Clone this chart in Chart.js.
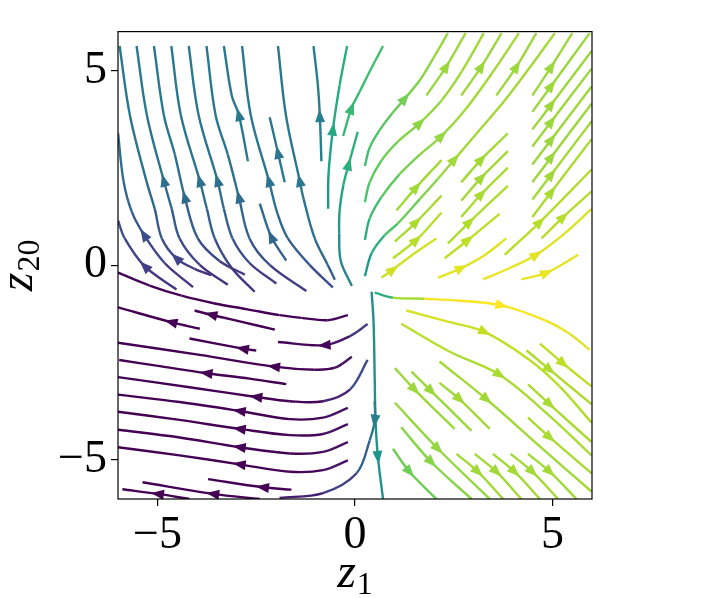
<!DOCTYPE html>
<html>
<head>
<meta charset="utf-8">
<script src="https://cdn.jsdelivr.net/npm/chart.js@4/dist/chart.umd.min.js"></script>
<style>
  body { margin: 0; background: #fff; }
  canvas { display: block; }
</style>
</head>
<body>
<canvas id="flow" width="711" height="598"></canvas>
<script>
// tick values on both axes
const xTicks = [-5, 0, 5];
const yTicks = [-5, 0, 5];

// streamlines, in flow order: [z1, z20, speed 0..1]
// a 4th value of 1 marks the point that carries the arrow head
const upperLeftLines = [
  [[-4.52,-0.62,0.12],[-5.32,-0.03,0.18,1],[-5.83,0.69,0.22],[-6.0,1.15,0.26]],
  [[-4.10,-0.56,0.12],[-4.82,0.06,0.18],[-5.34,0.78,0.24,1],[-5.65,1.37,0.3],[-5.86,2.16,0.35],[-6.0,3.40,0.38]],
  [[-3.64,-0.25,0.12],[-4.06,-0.09,0.16],[-4.52,0.18,0.2,1],[-4.89,0.69,0.25],[-5.07,1.45,0.32],[-5.28,2.16,0.36],[-5.70,3.86,0.4],[-5.96,5.63,0.4]],
  [[-3.22,-0.50,0.12],[-3.93,0.01,0.18],[-4.44,0.69,0.25],[-4.64,1.45,0.32],[-4.84,2.17,0.36,1],[-5.27,3.86,0.4],[-5.53,5.63,0.4]],
  [[-2.79,-0.24,0.14],[-3.43,0.11,0.2],[-3.98,0.69,0.26],[-4.31,1.75,0.34,1],[-4.56,2.84,0.38],[-4.84,3.86,0.4],[-5.09,5.63,0.4]],
  [[-2.54,-0.68,0.12],[-3.12,-0.07,0.2],[-3.55,0.69,0.27],[-3.75,1.45,0.33],[-3.93,2.17,0.37,1],[-4.41,3.86,0.4],[-4.65,5.63,0.4]],
  [[-1.99,-0.47,0.14],[-2.67,0.06,0.21],[-3.10,0.69,0.28],[-3.32,1.45,0.34],[-3.48,2.17,0.37,1],[-3.96,3.86,0.4],[-4.21,5.63,0.4]],
  [[-1.23,-0.66,0.14],[-2.16,0.01,0.22],[-2.67,0.69,0.29],[-2.94,1.75,0.35,1],[-3.22,2.84,0.38],[-3.53,3.86,0.4],[-3.76,5.63,0.4]],
  [[-2.71,2.67,0.4],[-2.94,3.86,0.4,1],[-3.12,4.36,0.4],[-3.32,5.63,0.4]],
  [[-1.74,0.12,0.3],[-2.12,0.73,0.33,1],[-2.41,1.58,0.36]],
  [[-0.56,-0.57,0.2],[-1.15,0.01,0.27],[-1.70,0.69,0.32],[-1.96,1.32,0.36],[-2.18,2.17,0.38,1],[-2.64,3.86,0.4],[-2.86,5.63,0.4]],
  [[-1.78,2.13,0.4],[-1.95,2.89,0.4,1],[-2.16,3.80,0.4]],
  [[-0.51,-0.37,0.28],[-0.69,0.01,0.32],[-1.02,0.69,0.36],[-1.30,1.70,0.39],[-1.40,2.17,0.4,1],[-1.75,3.86,0.4],[-1.95,5.63,0.4]],
  [[-0.85,2.67,0.42],[-0.89,3.83,0.42,1],[-0.94,4.62,0.42],[-1.05,5.63,0.42]]
];

const centerLines = [
  [[-0.68,1.45,0.5],[-0.67,2.34,0.55],[-0.56,3.48,0.6,1],[-0.39,4.62,0.62],[-0.20,5.63,0.63]],
  [[-0.08,-0.53,0.42],[-0.36,0.11,0.47],[-0.40,0.82,0.52],[-0.39,1.40,0.56],[-0.29,2.08,0.6],[-0.16,2.59,0.63,1],[0.07,3.43,0.65]],
  [[-0.30,3.32,0.66],[-0.09,4.03,0.67,1],[0.12,4.46,0.68],[0.42,5.07,0.69],[0.71,5.63,0.7]],
  [[0.42,-0.68,0.48],[0.47,-1.46,0.5],[0.50,-2.98,0.5],[0.52,-3.99,0.5],[0.58,-4.92,0.5,1],[0.71,-6.0,0.5]],
  [[0.50,-0.70,0.5],[0.96,-0.83,0.75],[1.76,-0.86,0.98],[2.65,-0.91,1.0],[3.71,-1.03,1.0,1],[4.80,-1.41,0.98],[5.43,-1.76,0.96],[5.94,-2.17,0.94]]
];

const lowerLeftLines = [
  [[-0.18,-1.28,0.04],[-0.69,-1.41,0.02],[-1.35,-1.35,0.01],[-1.91,-1.28,0.0],[-2.72,-1.13,0.0],[-3.55,-0.98,0.0],[-4.39,-0.78,0.0],[-5.20,-0.52,0.01],[-6.0,-0.19,0.02]],
  [[-3.93,-1.63,0],[-4.65,-1.46,0,1],[-6.0,-1.08,0]],
  [[-2.03,-1.65,0],[-2.92,-1.44,0],[-3.64,-1.27,0,1],[-4.06,-1.16,0]],
  [[-2.50,-2.19,0],[-2.84,-2.14,0,1],[-4.19,-1.88,0]],
  [[0.32,-1.51,0.25],[-0.13,-1.82,0.1],[-0.77,-2.05,0.02,1],[-1.95,-1.97,0]],
  [[-0.08,-2.35,0.08],[-0.51,-2.63,0.03],[-1.02,-2.68,0],[-2.05,-2.60,0,1],[-3.93,-2.30,0],[-6.0,-1.99,0]],
  [[-1.74,-3.05,0],[-2.67,-2.91,0],[-3.76,-2.77,0,1],[-4.94,-2.59,0],[-5.97,-2.43,0]],
  [[0.32,-2.43,0.3],[-0.13,-3.19,0.15],[-0.81,-3.49,0.03],[-1.65,-3.49,0],[-2.50,-3.38,0,1],[-4.19,-3.13,0],[-6.0,-2.87,0]],
  [[-0.18,-3.66,0.08],[-0.81,-3.91,0.02],[-1.65,-3.95,0],[-2.92,-3.74,0,1],[-4.44,-3.51,0],[-6.0,-3.32,0]],
  [[-0.18,-4.08,0.08],[-0.81,-4.33,0.02],[-1.65,-4.36,0],[-2.92,-4.20,0,1],[-4.44,-3.97,0],[-6.0,-3.76,0]],
  [[-0.18,-4.54,0.08],[-0.81,-4.79,0.02],[-1.65,-4.83,0],[-2.92,-4.67,0,1],[-4.44,-4.42,0],[-6.0,-4.22,0]],
  [[-0.18,-5.01,0.08],[-0.81,-5.26,0.02],[-1.65,-5.30,0],[-2.92,-5.11,0,1],[-4.44,-4.88,0],[-6.0,-4.67,0]],
  [[-1.61,-5.76,0],[-2.33,-5.70,0,1],[-3.72,-5.49,0]],
  [[-2.41,-6.0,0],[-3.59,-5.87,0,1],[-5.38,-5.57,0]],
  [[-4.19,-6.0,0],[-4.99,-5.87,0,1],[-5.89,-5.75,0]],
  [[0.50,-3.49,0.45],[0.50,-3.99,0.42,1],[0.37,-4.50,0.35],[0.04,-5.34,0.25],[-0.81,-5.85,0.12],[-1.91,-5.97,0.05]]
];

const upperRightLines = [
  [[0.25,2.55,0.68],[0.37,3.02,0.7],[0.63,3.48,0.73],[0.95,3.91,0.76],[1.26,4.28,0.79,1],[1.64,4.75,0.82],[1.99,5.33,0.84],[2.35,5.96,0.85]],
  [[0.25,1.62,0.7],[0.37,2.13,0.73],[0.67,2.69,0.77],[1.08,3.17,0.8],[1.64,3.65,0.83,1],[2.19,4.23,0.85],[2.70,4.97,0.86],[3.26,5.96,0.86]],
  [[0.25,0.65,0.6],[0.37,1.20,0.66],[0.67,1.75,0.72],[1.13,2.34,0.78],[1.64,2.84,0.82],[2.19,3.32,0.84,1],[2.78,3.98,0.86],[3.46,4.92,0.86],[4.15,5.96,0.86]],
  [[0.25,-0.28,0.5],[0.42,0.31,0.58],[0.75,0.77,0.68],[1.08,1.07,0.75],[1.64,1.70,0.8],[2.09,2.21,0.84],[2.52,2.72,0.86,1],[3.16,3.48,0.86],[3.79,4.23,0.86],[4.42,5.07,0.86],[5.06,5.96,0.86]],
  [[1.81,4.36,0.84],[2.31,5.10,0.85,1],[2.80,5.96,0.85]],
  [[2.69,4.36,0.85],[3.20,5.10,0.85,1],[3.71,5.96,0.85]],
  [[3.58,4.36,0.85],[4.09,5.10,0.85,1],[4.59,5.96,0.85]],
  [[4.49,4.36,0.85],[4.97,5.10,0.85,1],[5.50,5.96,0.85]],
  [[4.49,3.94,0.85],[4.97,4.61,0.85,1],[5.94,5.96,0.85]],
  [[4.49,3.49,0.85],[4.97,4.13,0.85,1],[5.99,5.50,0.85]],
  [[4.49,3.05,0.85],[4.97,3.69,0.85,1],[5.99,5.05,0.85]],
  [[4.49,2.59,0.85],[4.97,3.23,0.85,1],[5.99,4.59,0.85]],
  [[4.49,2.13,0.85],[4.97,2.78,0.85,1],[5.99,4.15,0.85]],
  [[4.49,1.69,0.86],[4.97,2.33,0.86,1],[5.99,3.70,0.86]],
  [[4.49,1.24,0.87],[4.97,1.88,0.87,1],[5.99,3.24,0.87]],
  [[2.69,2.13,0.86],[3.20,2.72,0.86,1],[3.87,3.39,0.86]],
  [[2.69,1.66,0.86],[3.20,2.25,0.86,1],[3.87,2.93,0.86]],
  [[2.69,1.24,0.87],[3.20,1.83,0.87,1],[3.87,2.51,0.87]],
  [[2.35,0.56,0.88],[2.90,1.11,0.88,1],[3.87,2.04,0.88]],
  [[2.27,0.18,0.9],[2.86,0.65,0.9,1],[3.66,1.32,0.9]],
  [[1.05,1.41,0.86],[1.55,2.00,0.86,1],[2.19,2.70,0.86]],
  [[1.01,0.61,0.87],[1.55,1.11,0.87,1],[2.19,1.79,0.87]],
  [[0.96,0.18,0.89],[1.55,0.65,0.89,1],[2.19,1.35,0.89]],
  [[0.67,-0.32,0.92],[0.96,-0.11,0.93,1],[1.51,0.31,0.93],[2.06,0.69,0.93]],
  [[2.10,-0.32,0.96],[2.69,-0.07,0.96,1],[3.28,0.26,0.95],[3.83,0.69,0.95]],
  [[3.24,-0.36,0.97],[3.92,-0.07,0.97],[4.59,0.27,0.96,1],[5.31,0.82,0.95],[5.99,1.45,0.94]],
  [[4.21,-0.36,0.97],[4.85,-0.19,0.97,1],[5.65,0.27,0.96]],
  [[3.79,0.27,0.9],[4.68,1.11,0.89,1],[5.99,2.46,0.88]],
  [[4.72,0.69,0.9],[5.27,1.24,0.89,1],[5.99,1.90,0.88]]
];

const lowerRightLines = [
  [[1.30,-1.16,0.95],[2.40,-1.46,0.93],[3.28,-1.71,0.91,1],[4.42,-2.43,0.9],[5.18,-3.11,0.89],[5.99,-4.04,0.88]],
  [[1.17,-1.50,0.9],[2.40,-2.22,0.88],[3.66,-2.81,0.87,1],[4.93,-3.87,0.87],[5.99,-4.88,0.87]],
  [[2.14,-2.47,0.86],[3.33,-3.44,0.86,1],[4.68,-4.65,0.86],[5.99,-5.81,0.86]],
  [[1.01,-2.64,0.85],[1.51,-3.19,0.85,1],[2.52,-4.20,0.85]],
  [[1.43,-2.73,0.85],[1.93,-3.23,0.85,1],[2.95,-4.25,0.85]],
  [[2.14,-3.02,0.86],[2.65,-3.44,0.86,1],[3.41,-4.20,0.86]],
  [[1.01,-3.53,0.84],[2.10,-4.71,0.84,1],[3.41,-6.0,0.84]],
  [[1.17,-4.16,0.82],[1.93,-5.05,0.82,1],[2.95,-6.0,0.82]],
  [[0.96,-4.71,0.78],[1.38,-5.30,0.78,1],[2.06,-6.0,0.78]],
  [[2.57,-4.84,0.86],[3.11,-5.30,0.86,1],[3.75,-6.0,0.86]],
  [[3.03,-4.84,0.86],[3.58,-5.30,0.86,1],[4.21,-6.0,0.86]],
  [[3.49,-4.84,0.86],[4.04,-5.30,0.86,1],[4.68,-6.0,0.86]],
  [[3.94,-4.84,0.86],[4.49,-5.30,0.86,1],[5.14,-6.0,0.86]],
  [[4.38,-4.84,0.86],[4.93,-5.30,0.86,1],[5.61,-6.0,0.86]],
  [[4.38,-3.91,0.87],[4.93,-4.42,0.87,1],[5.99,-5.34,0.87]],
  [[4.38,-3.06,0.87],[4.93,-3.57,0.87,1],[5.99,-4.54,0.87]],
  [[4.34,-2.18,0.88],[4.93,-2.68,0.88,1],[5.99,-3.57,0.88]],
  [[4.68,-2.01,0.9],[5.27,-2.52,0.9,1],[5.99,-3.11,0.9]]
];

const allLines = [...lowerLeftLines, ...upperLeftLines, ...centerLines, ...upperRightLines, ...lowerRightLines];

// viridis colour map
const viridisStops = ['#440154','#482475','#414487','#355f8d','#2a788e','#21918c','#22a884','#44bf70','#7ad151','#bddf26','#fde725'];
function hexToRgb(h) {
  return [1, 3, 5].map(i => parseInt(h.slice(i, i + 2), 16));
}
function viridis(t) {
  t = Math.min(1, Math.max(0, t)) * 10;
  const i = Math.min(9, Math.floor(t));
  const f = t - i;
  const a = hexToRgb(viridisStops[i]), b = hexToRgb(viridisStops[i + 1]);
  const c = a.map((v, k) => Math.round(v + (b[k] - v) * f));
  return `rgb(${c[0]},${c[1]},${c[2]})`;
}

const fmt = v => (v < 0 ? '\u2212' + Math.abs(v) : String(v));
const tickFont = { family: 'Liberation Serif', size: 46 };

const datasets = allLines.map(line => ({
  data: line.map(p => ({ x: p[0], y: p[1] })),
  showLine: true,
  borderWidth: 2.4,
  pointRadius: 0,
  tension: 0.35,
  borderCapStyle: 'butt',
  borderJoinStyle: 'round',
  borderColor: viridis(line[0][2]),
  segment: {
    borderColor: s => viridis((line[s.p0DataIndex][2] + line[s.p1DataIndex][2]) / 2)
  }
}));

// arrow heads along each streamline
const arrowPlugin = {
  id: 'arrows',
  afterDatasetsDraw(chart) {
    const { ctx, scales: { x, y } } = chart;
    ctx.save();
    allLines.forEach(line => {
      const k = line.findIndex(p => p[3] === 1);
      if (k < 0) return;
      const a = line[Math.max(k - 1, 0)];
      const b = line[Math.min(k + 1, line.length - 1)];
      const px = x.getPixelForValue(line[k][0]);
      const py = y.getPixelForValue(line[k][1]);
      const ang = Math.atan2(y.getPixelForValue(b[1]) - y.getPixelForValue(a[1]),
                             x.getPixelForValue(b[0]) - x.getPixelForValue(a[0]));
      ctx.save();
      ctx.translate(px, py);
      ctx.rotate(ang);
      ctx.beginPath();
      ctx.moveTo(7, 0);
      ctx.lineTo(-6, 5);
      ctx.lineTo(-6, -5);
      ctx.closePath();
      ctx.fillStyle = viridis(line[k][2]);
      ctx.fill();
      ctx.restore();
    });
    ctx.restore();
  }
};

// frame and the two axis titles
const framePlugin = {
  id: 'frame',
  afterDraw(chart) {
    const { ctx, chartArea: ca } = chart;
    ctx.save();
    ctx.strokeStyle = '#000';
    ctx.lineWidth = 1.2;
    ctx.strokeRect(ca.left, ca.top, ca.right - ca.left, ca.bottom - ca.top);

    const drawLabel = (sub, cx, baseY) => {
      ctx.font = 'italic 48px "Liberation Serif"';
      const wz = ctx.measureText('z').width;
      ctx.font = '32px "Liberation Serif"';
      const ws = ctx.measureText(sub).width;
      const x0 = cx - (wz + ws + 1) / 2;
      ctx.fillStyle = '#000';
      ctx.textBaseline = 'alphabetic';
      ctx.textAlign = 'left';
      ctx.font = 'italic 48px "Liberation Serif"';
      ctx.fillText('z', x0, baseY);
      ctx.font = '32px "Liberation Serif"';
      ctx.fillText(sub, x0 + wz + 1, baseY + 7);
    };
    drawLabel('1', (ca.left + ca.right) / 2, 587);
    ctx.translate(32, (ca.top + ca.bottom) / 2);
    ctx.rotate(-Math.PI / 2);
    drawLabel('20', 0, 0);
    ctx.restore();
  }
};

new Chart(document.getElementById('flow'), {
  type: 'scatter',
  data: { datasets },
  options: {
    responsive: false,
    animation: false,
    layout: { padding: { left: 0, top: 25, right: 119, bottom: 0 } },
    plugins: { legend: { display: false }, tooltip: { enabled: false } },
    scales: {
      x: {
        type: 'linear', min: -6, max: 6,
        afterBuildTicks: s => { s.ticks = xTicks.map(v => ({ value: v })); },
        afterFit: s => { s.height = 99; },
        border: { display: false },
        grid: { display: true, drawOnChartArea: false, tickLength: 7, color: '#000', lineWidth: 1.2 },
        ticks: { font: tickFont, color: '#000', padding: 2, maxRotation: 0, callback: fmt }
      },
      y: {
        type: 'linear', min: -6, max: 6,
        afterBuildTicks: s => { s.ticks = yTicks.map(v => ({ value: v })); },
        afterFit: s => { s.width = 118; },
        border: { display: false },
        grid: { display: true, drawOnChartArea: false, tickLength: 7, color: '#000', lineWidth: 1.2 },
        ticks: { font: tickFont, color: '#000', padding: 4, callback: fmt }
      }
    }
  },
  plugins: [arrowPlugin, framePlugin]
});
</script>
</body>
</html>
